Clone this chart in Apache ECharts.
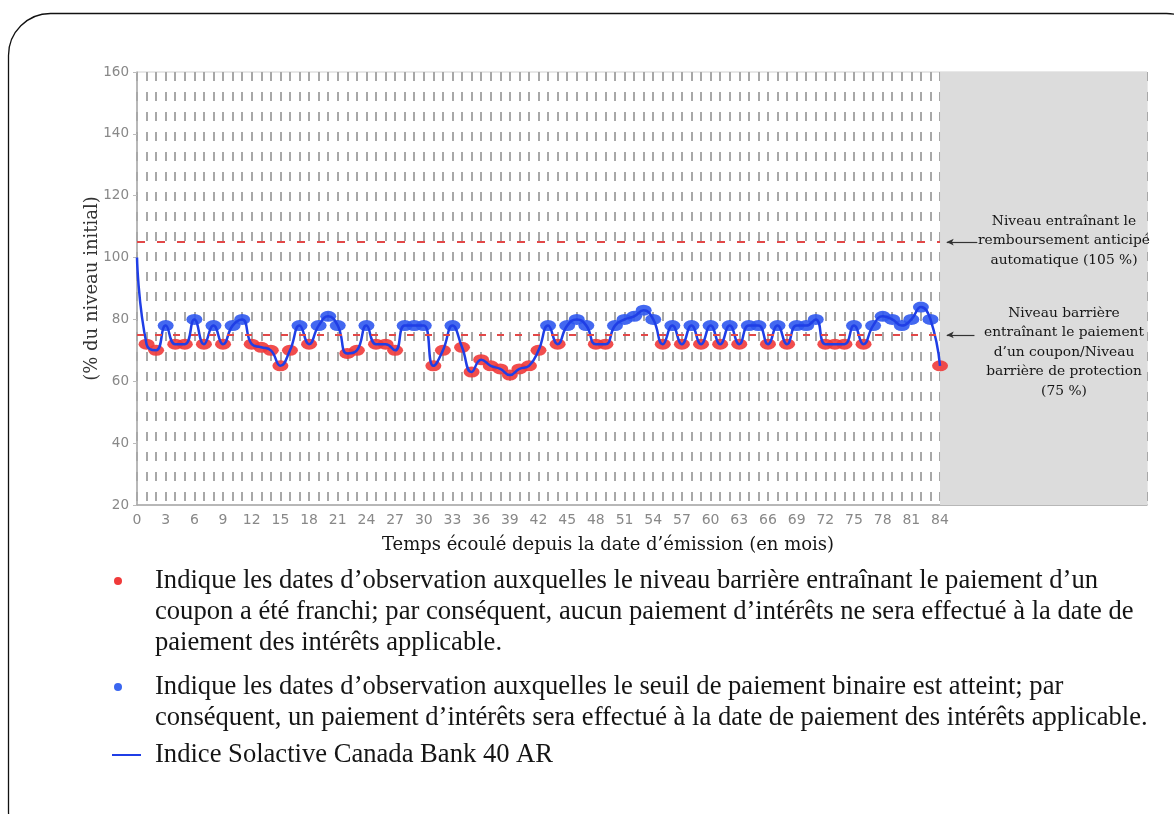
<!DOCTYPE html>
<html>
<head>
<meta charset="utf-8">
<script src="https://cdn.jsdelivr.net/npm/echarts@6/dist/echarts.min.js"></script>
<style>html,body{margin:0;padding:0;background:#fff;}#c{width:1174px;height:814px;}</style>
</head>
<body>
<div id="c"></div>
<script>
// ---- data ----
var months = [0,1,2,3,4,5,6,7,8,9,10,11,12,13,14,15,16,17,18,19,20,21,22,23,24,25,26,27,28,29,30,31,32,33,34,35,36,37,38,39,40,41,42,43,44,45,46,47,48,49,50,51,52,53,54,55,56,57,58,59,60,61,62,63,64,65,66,67,68,69,70,71,72,73,74,75,76,77,78,79,80,81,82,83,84];
var indexValues = [100,72,70,78,72,72,80,72,78,72,78,80,72,71,70,65,70,78,72,78,81,78,69,70,78,72,72,70,78,78,78,65,70,78,71,63,67,65,64,62,64,65,70,78,72,78,80,78,72,72,78,80,81,83,80,72,78,72,78,72,78,72,78,72,78,78,72,78,72,78,78,80,72,72,72,78,72,78,81,80,78,80,84,80,65];
var autocallLevel = [105];
var barrierLevel = [75];
var yTicks = [20,40,60,80,100,120,140,160];
var xLabelStep = 3;
var lastMonth = 84;
var axisMaxMonth = 105.65;
var autocallNote = ['Niveau entraînant le', 'remboursement anticipé', 'automatique (105 %)'];
var barrierNote = ['Niveau barrière', 'entraînant le paiement', 'd\u2019un coupon/Niveau', 'barrière de protection', '(75 %)'];
var legendRed = ['Indique les dates d\u2019observation auxquelles le niveau barrière entraînant le paiement d\u2019un',
  'coupon a été franchi; par conséquent, aucun paiement d\u2019intérêts ne sera effectué à la date de',
  'paiement des intérêts applicable.'];
var legendBlue = ['Indique les dates d\u2019observation auxquelles le seuil de paiement binaire est atteint; par',
  'conséquent, un paiement d\u2019intérêts sera effectué à la date de paiement des intérêts applicable.'];
var legendLine = ['Indice Solactive Canada Bank 40 AR'];

var lineData = months.map(function(m,i){return [m, indexValues[i]];});
var markerData = [];
for (var i = 1; i < months.length; i++) markerData.push([months[i], indexValues[i]]);

var RED = '#f03a3a', BLUE = '#2f58ee';
var serif = '"DejaVu Serif", serif';
var times = '"Liberation Serif", "Times New Roman", serif';

var chart = echarts.init(document.getElementById('c'), null, {renderer:'canvas'});

function txt(s, x, y, font, align){
  return {type:'text', z:100, style:{text:s, x:x, y:y, font:font, fill:'#151515', textAlign:align||'left', textVerticalAlign:'middle'}};
}

var graphics = [
  {type:'rect', shape:{x:8.5, y:13.5, width:1200, height:840, r:42}, style:{fill:'none', stroke:'#111', lineWidth:1.3}, z:0},
  txt('Temps écoulé depuis la date d\u2019émission (en mois)', 608, 545, '18px ' + serif, 'center'),
  {type:'circle', shape:{cx:118, cy:581, r:4}, style:{fill:RED}},
  {type:'circle', shape:{cx:118, cy:687, r:4}, style:{fill:'#3a66f0'}},
  {type:'line', shape:{x1:112, y1:755, x2:141, y2:755}, style:{stroke:'#1f3ee6', lineWidth:2}}
];
autocallNote.forEach(function(s,k){ graphics.push(txt(s, 1064, 221 + k*19.5, '13.8px ' + serif, 'center')); });
barrierNote.forEach(function(s,k){ graphics.push(txt(s, 1064, 313 + k*19.6, '13.8px ' + serif, 'center')); });
legendRed.forEach(function(s,k){ graphics.push(txt(s, 155, 581 + k*31, '26.6px ' + times)); });
legendBlue.forEach(function(s,k){ graphics.push(txt(s, 155, 687 + k*31, '26.6px ' + times)); });
legendLine.forEach(function(s){ graphics.push(txt(s, 155, 755, '26.6px ' + times)); });

var option = {
  animation:false,
  backgroundColor:'#fff',
  grid:{left:137, top:72, right:27, bottom:309, show:true, borderColor:'#d0d0d0', borderWidth:1, backgroundColor:'transparent'},
  xAxis:{
    type:'value', min:0, max:axisMaxMonth, interval:1,
    axisLine:{show:true, onZero:false, lineStyle:{color:'#a8a8a8', width:1.5}},
    axisTick:{show:false},
    axisLabel:{color:'#888', fontSize:14, fontFamily:'"DejaVu Sans", sans-serif', margin:8, showMaxLabel:false,
      formatter:function(v){ return (v % xLabelStep === 0 && v <= lastMonth) ? String(v) : ''; }},
    splitLine:{show:true, lineStyle:{color:'#a8a8a8', width:2, type:[9,11]}}
  },
  yAxis:{
    type:'value', min:yTicks[0], max:yTicks[yTicks.length-1], interval:yTicks[1]-yTicks[0],
    name:'(% du niveau initial)', nameLocation:'middle', nameGap:36, nameRotate:90, nameMoveOverlap:false,
    nameTextStyle:{fontFamily:serif, fontSize:18, color:'#333'},
    axisLine:{show:true, lineStyle:{color:'#a8a8a8', width:1.5}},
    axisTick:{show:true, length:4, lineStyle:{color:'#bbb'}},
    axisLabel:{color:'#888', fontSize:13.5, fontFamily:'"DejaVu Sans", sans-serif', margin:8},
    splitLine:{show:false}
  },
  graphic:graphics,
  series:[
    {
      type:'line', data:[], silent:true, z:1,
      markArea:{silent:true, itemStyle:{color:'#dcdcdc'}, data:[[{xAxis:lastMonth},{xAxis:axisMaxMonth}]]},
      markLine:{silent:true, symbol:['none','none'], label:{show:false},
        data:[
          [{coord:[0, autocallLevel[0]], lineStyle:{color:'#e24848', width:2, type:[8,12]}}, {coord:[lastMonth, autocallLevel[0]]}],
          [{coord:[0, barrierLevel[0]], lineStyle:{color:'#e24848', width:2, type:[7,11]}}, {coord:[lastMonth, barrierLevel[0]]}]
        ]}
    },
    {
      type:'line', data:[], silent:true, z:5,
      markLine:{silent:true, symbol:['arrow','none'], symbolSize:[5,7], label:{show:false},
        lineStyle:{color:'#333', width:1.2, type:'solid'},
        data:[
          [{coord:[lastMonth+0.7, autocallLevel[0]]}, {coord:[lastMonth+3.9, autocallLevel[0]]}],
          [{coord:[lastMonth+0.7, barrierLevel[0]]}, {coord:[lastMonth+3.6, barrierLevel[0]]}]
        ]}
    },
    {
      type:'scatter', data:markerData, z:3, symbol:'circle', symbolSize:[16,11],
      itemStyle:{opacity:0.9, color:function(p){ return p.value[1] < barrierLevel[0] ? RED : BLUE; }}
    },
    {
      type:'line', data:lineData, z:4, smooth:0.5, showSymbol:false, symbol:'none',
      lineStyle:{color:'#1f3ee6', width:2.5}
    }
  ]
};
chart.setOption(option);
</script>
</body>
</html>
